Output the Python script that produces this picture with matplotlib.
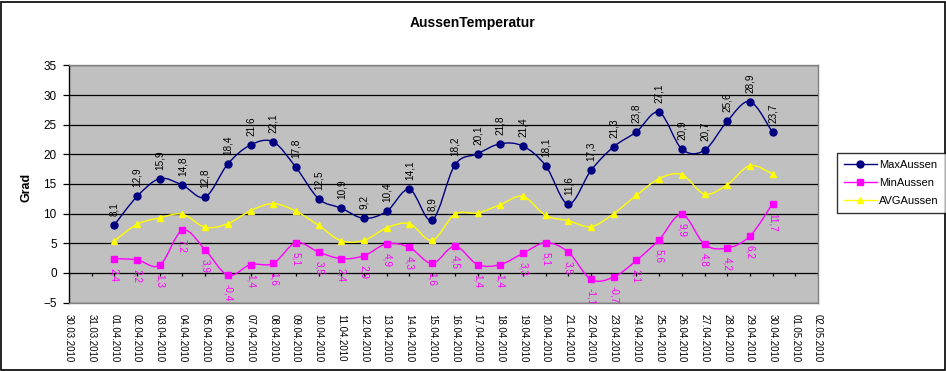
import matplotlib
matplotlib.use("Agg")
import matplotlib.pyplot as plt
import matplotlib.dates as mdates
from matplotlib.path import Path
from matplotlib.patches import PathPatch, Rectangle
from matplotlib.lines import Line2D
import datetime as dt

plt.rcParams['font.family'] = ['Liberation Sans', 'DejaVu Sans']

dates = ["01.04.2010", "02.04.2010", "03.04.2010", "04.04.2010", "05.04.2010",
         "06.04.2010", "07.04.2010", "08.04.2010", "09.04.2010", "10.04.2010",
         "11.04.2010", "12.04.2010", "13.04.2010", "14.04.2010", "15.04.2010",
         "16.04.2010", "17.04.2010", "18.04.2010", "19.04.2010", "20.04.2010",
         "21.04.2010", "22.04.2010", "23.04.2010", "24.04.2010", "25.04.2010",
         "26.04.2010", "27.04.2010", "28.04.2010", "29.04.2010", "30.04.2010"]
max_aussen = [8.1, 12.9, 15.9, 14.8, 12.8, 18.4, 21.6, 22.1, 17.8, 12.5,
              10.9, 9.2, 10.4, 14.1, 8.9, 18.2, 20.1, 21.8, 21.4, 18.1,
              11.6, 17.3, 21.3, 23.8, 27.1, 20.9, 20.7, 25.6, 28.9, 23.7]
min_aussen = [2.4, 2.2, 1.3, 7.2, 3.9, -0.4, 1.4, 1.6, 5.1, 3.5,
              2.4, 2.9, 4.9, 4.3, 1.6, 4.5, 1.4, 1.4, 3.3, 5.1,
              3.5, -1.1, -0.7, 2.1, 5.6, 9.9, 4.8, 4.2, 6.2, 11.7]
avg_aussen = [5.4, 8.2, 9.3, 9.9, 7.7, 8.3, 10.5, 11.7, 10.4, 8.0,
              5.4, 5.5, 7.6, 8.3, 5.5, 9.9, 10.1, 11.5, 12.9, 9.7,
              8.8, 7.8, 10.0, 13.1, 15.9, 16.6, 13.3, 14.9, 18.1, 16.7]
axis_start = "30.03.2010"
axis_end = "02.05.2010"
y_ticks = [-5, 0, 5, 10, 15, 20, 25, 30, 35]

W, H = 946, 371
fig = plt.figure(figsize=(W / 100, H / 100), dpi=100)
ax = fig.add_axes([69 / W, 1 - 302.5 / H, (818 - 69) / W, (302.5 - 65.5) / H])
ax.set_facecolor('#c0c0c0')

def parse(s):
    return dt.datetime.strptime(s, "%d.%m.%Y")

x = mdates.date2num([parse(d) for d in dates])
x0 = mdates.date2num(parse(axis_start))
x1 = mdates.date2num(parse(axis_end))

def smooth(xs, ys):
    pts = list(zip(xs, ys))
    n = len(pts)
    verts = [pts[0]]
    codes = [Path.MOVETO]
    for i in range(n - 1):
        p0 = pts[max(i - 1, 0)]
        p1 = pts[i]
        p2 = pts[i + 1]
        p3 = pts[min(i + 2, n - 1)]
        c1 = (p1[0] + (p2[0] - p0[0]) / 6, p1[1] + (p2[1] - p0[1]) / 6)
        c2 = (p2[0] - (p3[0] - p1[0]) / 6, p2[1] - (p3[1] - p1[1]) / 6)
        verts += [c1, c2, p2]
        codes += [Path.CURVE4] * 3
    return Path(verts, codes)

series = [
    ("MaxAussen", max_aussen, '#000080', 'o', 5.0),
    ("MinAussen", min_aussen, '#ff00ff', 's', 5.0),
    ("AVGAussen", avg_aussen, '#ffff00', '^', 5.0),
]

for yv in y_ticks:
    ax.axhline(yv, color='black', lw=0.9, zorder=1)

# ticks on the zero line
tick_days = mdates.drange(parse(axis_start), parse(axis_end) + dt.timedelta(days=1), dt.timedelta(days=1))
ax.vlines(tick_days, -0.5, 0, color='black', lw=0.9, zorder=1)

handles = []
for name, vals, col, mk, ms in series:
    patch = PathPatch(smooth(x, vals), facecolor='none', edgecolor=col, lw=1.0, zorder=3)
    ax.add_patch(patch)
    ax.plot(x, vals, ls='none', marker=mk, ms=ms, color=col, mec=col, zorder=4)
    handles.append(Line2D([], [], color=col, marker=mk, ms=ms, lw=1.0, label=name))

for xi, v in zip(x, max_aussen):
    t = ax.annotate(f"{v:.1f}".replace('.', ','), (xi, v), xytext=(0, 6.5),
                    textcoords='offset points', rotation=90, ha='center', va='bottom',
                    fontsize=7.2, color='black', zorder=5)
    t.set_clip_path(ax.patch)
for xi, v in zip(x, min_aussen):
    t = ax.annotate(f"{v:.1f}".replace('.', ','), (xi, v), xytext=(0, -6.5),
                    textcoords='offset points', rotation=270, ha='center', va='top',
                    fontsize=7.2, color='#ff00ff', zorder=5)
    t.set_clip_path(ax.patch)

ax.set_xlim(x0, x1)
ax.set_ylim(-5, 35)
ax.set_yticks(y_ticks)
ax.xaxis.set_major_locator(mdates.DayLocator())
ax.xaxis.set_major_formatter(mdates.DateFormatter('%d.%m.%Y'))
ax.tick_params(axis='x', length=0, pad=8, labelsize=7, rotation=270)
ax.tick_params(axis='y', length=4.3, width=0.9, pad=4.5, labelsize=8.5, direction='out')
for lab in ax.get_xticklabels():
    lab.set_va('top')
    lab.set_ha('center')

for s in ['top', 'right', 'bottom']:
    ax.spines[s].set_color('#808080')
    ax.spines[s].set_linewidth(1.0)
ax.spines['left'].set_color('black')
ax.spines['left'].set_linewidth(1.0)

fig.text(473 / W, 1 - 23 / H, "AussenTemperatur", ha='center', va='center',
         fontsize=10, fontweight='bold')
fig.text(26 / W, 1 - 187 / H, "Grad", ha='center', va='center', rotation=90,
         fontsize=9, fontweight='bold')

leg = fig.legend(handles=handles, loc='upper left', bbox_to_anchor=(837 / W, 1 - 153 / H),
                 frameon=True, fancybox=False, edgecolor='black', fontsize=8,
                 handlelength=3.0, handletextpad=0.2, borderpad=0.6, labelspacing=0.75,
                 borderaxespad=0)
leg.get_frame().set_linewidth(1.0)

fig.patches.append(Rectangle((1 / W, 1 / H), (W - 2.5) / W, (H - 2.5) / H, transform=fig.transFigure,
                             fill=False, edgecolor='black', lw=1.2))

fig.savefig("out.png", dpi=100)
